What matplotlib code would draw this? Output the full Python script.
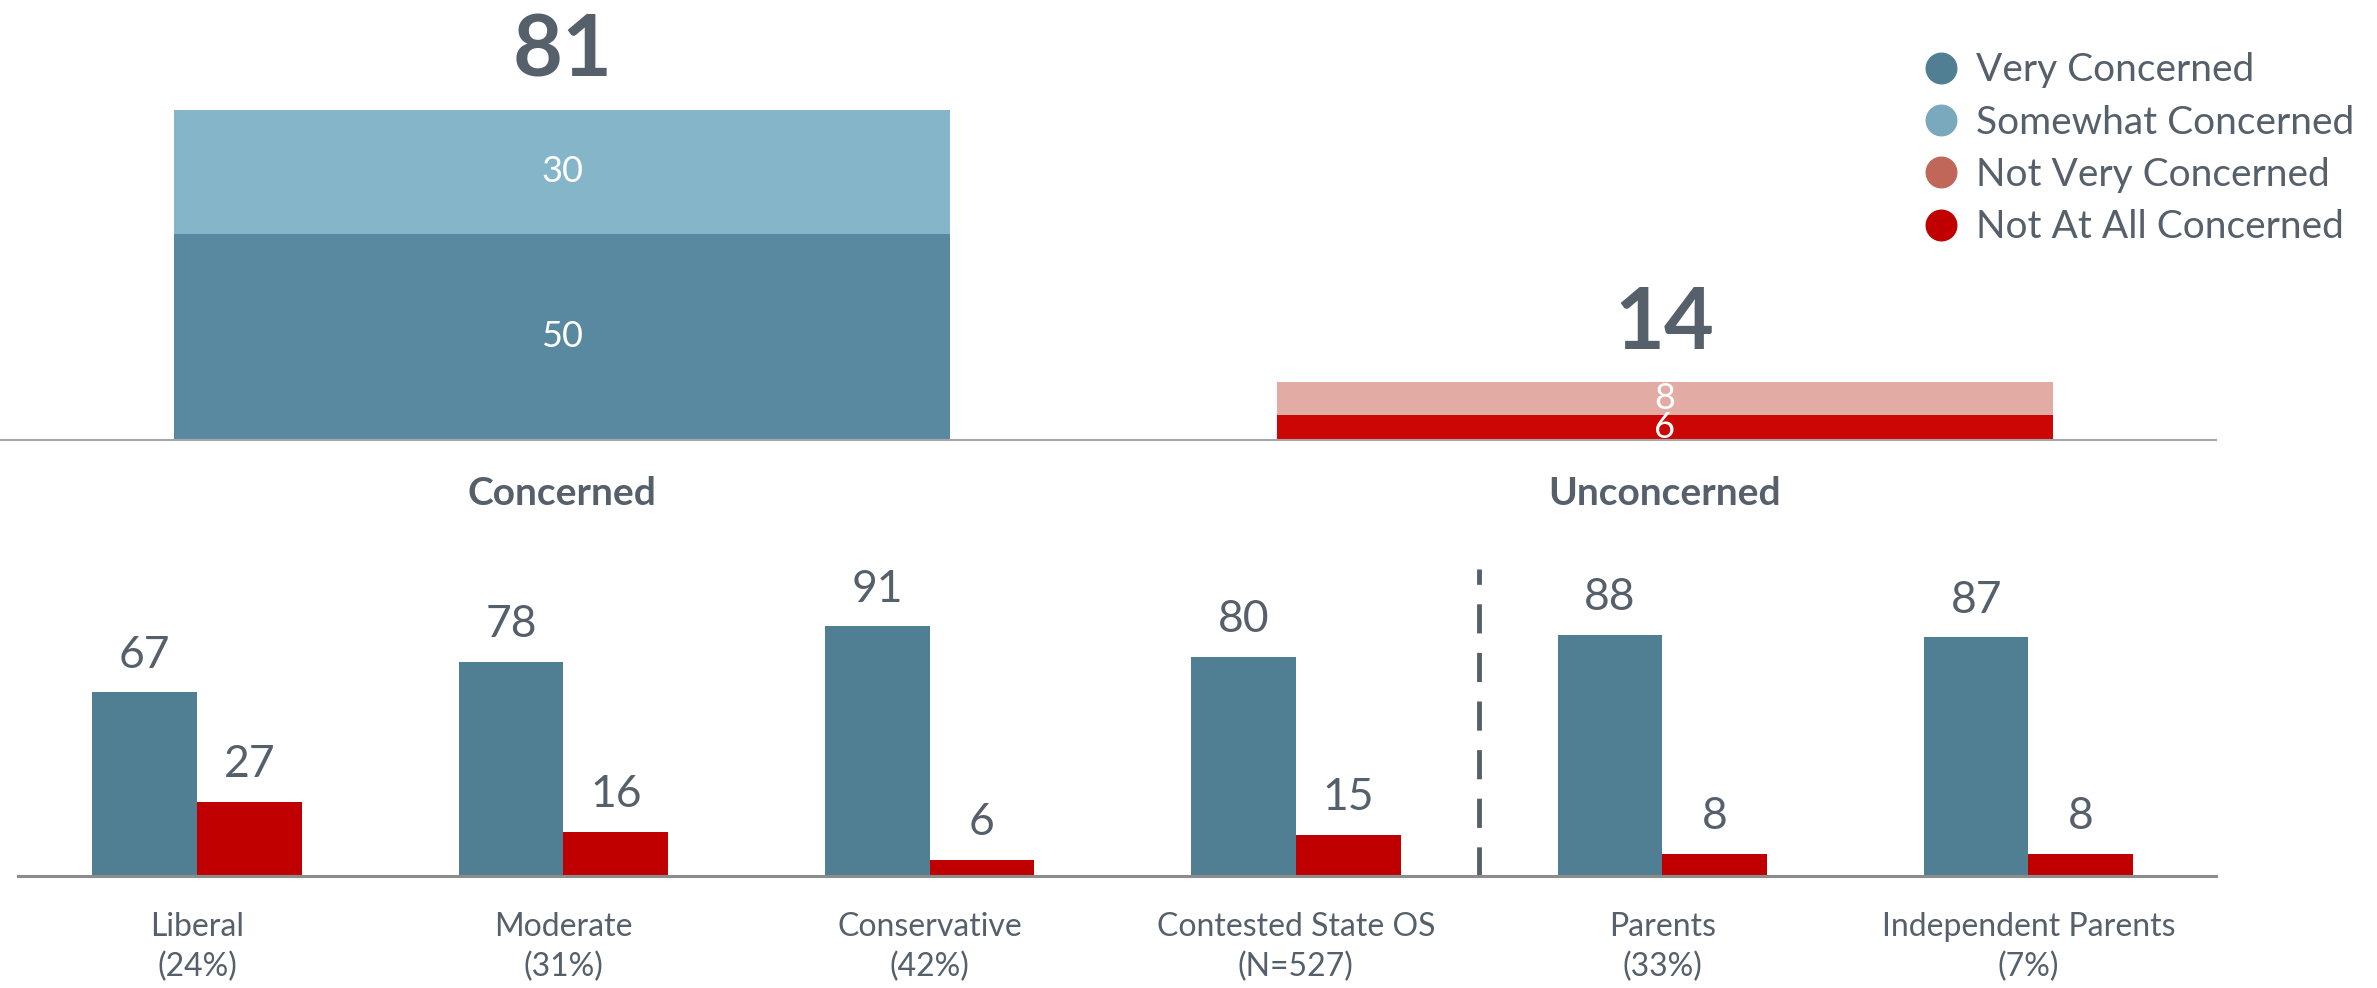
import matplotlib
matplotlib.use("Agg")
import matplotlib.pyplot as plt
from matplotlib.lines import Line2D

plt.rcParams['font.family'] = ['Lato', 'DejaVu Sans']

# top summary bars
top_groups = ["Concerned", "Unconcerned"]
top_totals = [81, 14]
top_lower = [50, 6]    # Very Concerned / Not At All Concerned
top_upper = [30, 8]    # Somewhat Concerned / Not Very Concerned

# bottom breakdown
groups = ["Liberal", "Moderate", "Conservative", "Contested State OS", "Parents", "Independent Parents"]
group_sizes = ["(24%)", "(31%)", "(42%)", "(N=527)", "(33%)", "(7%)"]
very_concerned = [67, 78, 91, 80, 88, 87]
not_at_all = [27, 16, 6, 15, 8, 8]

legend_labels = ["Very Concerned", "Somewhat Concerned", "Not Very Concerned", "Not At All Concerned"]
legend_colors = ["#507F94", "#7AA9BD", "#C0675A", "#C00000"]

text_color = "#56606B"

fig = plt.figure(figsize=(23.77, 9.88), dpi=100)

# ---- top panel
ax1 = fig.add_axes([0, 0.5547, 0.9323, 0.4453])
xt = list(range(len(top_groups)))
b1 = ax1.bar(xt, top_lower, width=0.704, color=["#5889A0", "#CC0605"])
b2 = ax1.bar(xt, top_upper, bottom=top_lower, width=0.704, color=["#85B5C9", "#E2ACA4"])
ax1.bar_label(b1, label_type='center', color='white', fontsize=26)
ax1.bar_label(b2, label_type='center', color='white', fontsize=26)
for i in xt:
    ax1.annotate(str(top_totals[i]), xy=(i, top_lower[i] + top_upper[i]), xytext=(0, 24),
                 textcoords='offset points', ha='center', va='baseline',
                 fontsize=62, fontweight='bold', color=text_color)
ax1.set_xlim(-0.51, 1.5)
ax1.set_ylim(0, 106.7)
for s in ['top', 'left', 'right']:
    ax1.spines[s].set_visible(False)
ax1.spines['bottom'].set_color('#A6A6A6')
ax1.spines['bottom'].set_linewidth(1.5)
ax1.set_yticks([])
ax1.set_xticks(xt, top_groups, fontsize=28, fontweight='bold', color=text_color)
ax1.tick_params(axis='x', length=0, pad=26)

# ---- bottom panel
ax2 = fig.add_axes([0.00757, 0.1134, 0.9247, 0.3198])
xb = list(range(len(groups)))
w = 0.2856
bb = ax2.bar([x - w / 2 for x in xb], very_concerned, width=w, color="#507F94")
br = ax2.bar([x + w / 2 for x in xb], not_at_all, width=w, color="#C00000")
ax2.bar_label(bb, padding=12, fontsize=32, color=text_color)
ax2.bar_label(br, padding=12, fontsize=32, color=text_color)
ax2.axvline(3.5, ymin=0, ymax=112 / 115.2, color=text_color, lw=3.5, dashes=(6, 4))
ax2.set_xlim(-0.489, 5.512)
ax2.set_ylim(0, 115.2)
for s in ['top', 'left', 'right']:
    ax2.spines[s].set_visible(False)
ax2.spines['bottom'].set_color('#8C8C8C')
ax2.spines['bottom'].set_linewidth(2.2)
ax2.set_yticks([])
ax2.set_xticks(xb, [g + "\n" + s for g, s in zip(groups, group_sizes)],
               fontsize=23, color=text_color, linespacing=1.4)
ax2.tick_params(axis='x', length=0, pad=26)

# ---- legend
handles = [Line2D([], [], marker='o', linestyle='', markersize=22, color=c) for c in legend_colors]
fig.legend(handles, legend_labels, loc='upper left', bbox_to_anchor=(0.8085, 0.947),
           frameon=False, fontsize=28, labelcolor=text_color, handlelength=1,
           handletextpad=0.4, labelspacing=0.42, borderpad=0, borderaxespad=0)

fig.savefig("out.png", dpi=100)
